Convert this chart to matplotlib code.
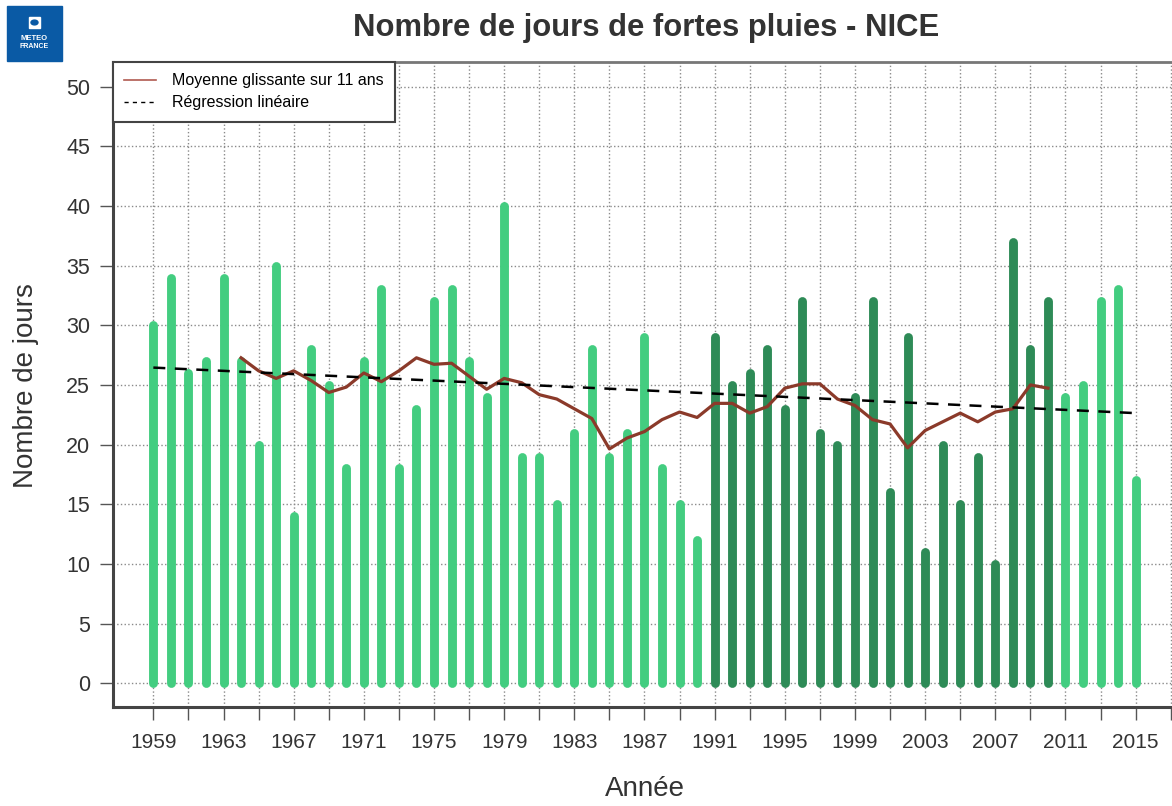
import numpy as np
import matplotlib
matplotlib.use('Agg')
import matplotlib.pyplot as plt
from matplotlib.patches import Rectangle, Circle
from matplotlib.lines import Line2D

plt.rcParams['font.family'] = ['Liberation Sans', 'DejaVu Sans']

# donnees
annees = list(range(1959, 2016))
jours = [30, 34, 26, 27, 34, 27, 20, 35, 14, 28,
         25, 18, 27, 33, 18, 23, 32, 33, 27, 24,
         40, 19, 19, 15, 21, 28, 19, 21, 29, 18,
         15, 12, 29, 25, 26, 28, 23, 32, 21, 20,
         24, 32, 16, 29, 11, 20, 15, 19, 10, 37,
         28, 32, 24, 25, 32, 33, 17]
periode_ref = (1991, 2010)   # barres foncees
fenetre = 11                 # moyenne glissante sur 11 ans

vert_clair = '#43CD80'
vert_fonce = '#2E8B57'
brun = '#8B3A2A'

x = np.array(annees)
y = np.array(jours, dtype=float)

# moyenne glissante centree
moyenne = np.convolve(y, np.ones(fenetre) / fenetre, mode='valid')
demi = fenetre // 2
annees_mm = x[demi:len(x) - demi]

# regression lineaire
a, b = np.polyfit(x, y, 1)
reg = a * x + b

couleurs = [vert_fonce if periode_ref[0] <= an <= periode_ref[1] else vert_clair for an in annees]

W, H = 1172, 806
fig = plt.figure(figsize=(W / 100, H / 100), dpi=100)
ax = fig.add_axes([113 / W, 1 - 707 / H, (1223 - 113) / W, (707 - 62) / H])

ax.vlines(x, 0, y, colors=couleurs, lw=6.4, capstyle='round', zorder=3)
ax.plot(annees_mm, moyenne, color=brun, lw=2.3, zorder=4, solid_joinstyle='round')
ax.plot(x, reg, color='black', lw=1.8, ls=(0, (4.8, 3.8)), zorder=5)

ax.set_xlim(1956.70, 2019.98)
ax.set_ylim(-1.99, 52.06)

pos_x = list(range(1959, 2018, 2))
ax.set_xticks(pos_x)
ax.set_xticklabels([str(t) if (t - 1959) % 4 == 0 else '' for t in pos_x])
ax.set_yticks(range(0, 55, 5))

ax.grid(True, linestyle=':', color='#8a8a8a', lw=1.0, zorder=1)
ax.set_axisbelow(True)

ax.tick_params(axis='both', length=9.4, width=1, color='#555555', labelcolor='#333333')
ax.tick_params(axis='x', labelsize=15, pad=9)
ax.tick_params(axis='y', labelsize=15.5, pad=7)

ax.spines['right'].set_visible(False)
for s in ['left', 'bottom']:
    ax.spines[s].set_color('#444444')
    ax.spines[s].set_linewidth(2.2)
ax.spines['top'].set_color('#777777')
ax.spines['top'].set_linewidth(2.0)

# legende
poignees = [Line2D([], [], color='#B05A50', lw=1.2),
            Line2D([], [], color='black', lw=1.0, ls=(0, (3, 3)))]
leg = ax.legend(poignees, ['Moyenne glissante sur 11 ans', 'Régression linéaire'],
                loc='upper left', bbox_to_anchor=(0, 1), borderaxespad=0,
                fontsize=11.5, frameon=True, fancybox=False, framealpha=1,
                edgecolor='#444444', handlelength=2.0, handletextpad=1.0,
                borderpad=0.7, labelspacing=0.45)
leg.get_frame().set_linewidth(1.5)
leg.set_zorder(10)

# textes
fig.text(646 / W, 1 - 28 / H, 'Nombre de jours de fortes pluies - NICE',
         ha='center', va='center', fontsize=22.3, fontweight='bold', color='#333333')
fig.text(26 / W, 1 - 386 / H, 'Nombre de jours', rotation=90,
         ha='center', va='center', fontsize=20, color='#333333')
fig.text(645 / W, 1 - 789 / H, 'Année', ha='center', va='center',
         fontsize=20, color='#333333')

# logo
fig.patches.append(Rectangle((7 / W, 1 - 61 / H), 55 / W, 55 / H,
                             transform=fig.transFigure, color='#0A5AA5'))
fig.patches.append(Rectangle((29 / W, 1 - 28 / H), 11 / W, 11 / H,
                             transform=fig.transFigure, color='white'))
fig.patches.append(Circle((34.5 / W, 1 - 22.5 / H), 3.5 / W,
                          transform=fig.transFigure, color='#0A5AA5'))
fig.text(34.5 / W, 1 - 38 / H, 'METEO', ha='center', va='center',
         fontsize=5.5, fontweight='bold', color='white')
fig.text(34.5 / W, 1 - 46 / H, 'FRANCE', ha='center', va='center',
         fontsize=5, fontweight='bold', color='white')

fig.savefig('out.png', dpi=100)
